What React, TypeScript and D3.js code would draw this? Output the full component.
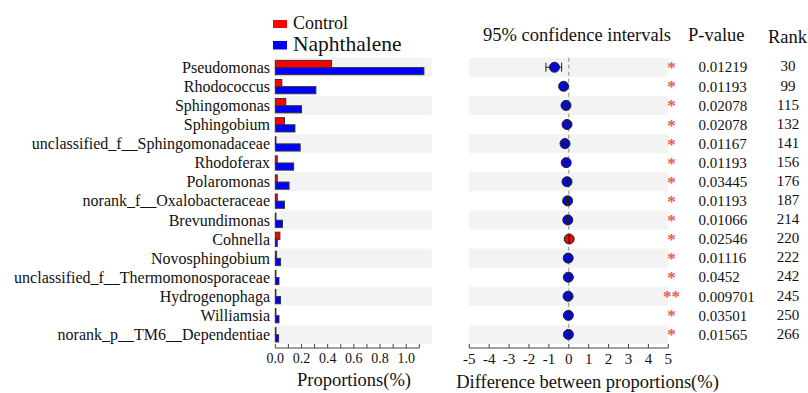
import React from "react";
import * as d3 from "d3";

// Genera compared between the two treatments (top to bottom)
const taxa = [
  "Pseudomonas",
  "Rhodococcus",
  "Sphingomonas",
  "Sphingobium",
  "unclassified_f__Sphingomonadaceae",
  "Rhodoferax",
  "Polaromonas",
  "norank_f__Oxalobacteraceae",
  "Brevundimonas",
  "Cohnella",
  "Novosphingobium",
  "unclassified_f__Thermomonosporaceae",
  "Hydrogenophaga",
  "Williamsia",
  "norank_p__TM6__Dependentiae",
];

// Mean proportions (%) per group
const control = [0.43, 0.05, 0.08, 0.07, 0.005, 0.015, 0.015, 0.015, 0.005, 0.035, 0.01, 0.005, 0.003, 0.005, 0.005];
const naphthalene = [1.135, 0.31, 0.2, 0.15, 0.19, 0.14, 0.105, 0.07, 0.055, 0.015, 0.04, 0.028, 0.04, 0.028, 0.025];

// Difference between proportions and its 95% confidence interval
const diff = [-0.72, -0.26, -0.14, -0.09, -0.19, -0.13, -0.09, -0.06, -0.05, 0.02, -0.03, -0.023, -0.037, -0.023, -0.02];
const ciLow = [-1.15, -0.38, -0.24, -0.16, -0.28, -0.2, -0.16, -0.11, -0.09, 0.005, -0.06, -0.045, -0.06, -0.045, -0.04];
const ciHigh = [-0.36, -0.14, -0.04, -0.02, -0.1, -0.06, -0.02, -0.01, -0.01, 0.04, -0.005, -0.002, -0.015, -0.002, -0.002];

const pValues = ["0.01219", "0.01193", "0.02078", "0.02078", "0.01167", "0.01193", "0.03445", "0.01193", "0.01066", "0.02546", "0.01116", "0.0452", "0.009701", "0.03501", "0.01565"];
const stars = ["*", "*", "*", "*", "*", "*", "*", "*", "*", "*", "*", "*", "**", "*", "*"];
const ranks = ["30", "99", "115", "132", "141", "156", "176", "187", "214", "220", "222", "242", "245", "250", "266"];

const propTicks = [0, 0.1, 0.2, 0.3, 0.4, 0.5, 0.6, 0.7, 0.8, 0.9, 1.0, 1.1];
const propLabels = [0, 0.2, 0.4, 0.6, 0.8, 1.0];
const diffTicks = [-5, -4, -3, -2, -1, 0, 1, 2, 3, 4, 5];

const RED = "#ff0000";
const BLUE = "#0000ff";
const BAND = "#f3f3f3";
const FONT = "'Liberation Serif', 'Times New Roman', serif";

export default function App() {
  const y = d3.scaleBand<string>().domain(taxa).range([57.7, 344]).paddingInner(0).paddingOuter(0);
  const xProp = d3.scaleLinear().domain([0, 1.1]).range([275.3, 419.3]);
  const xDiff = d3.scaleLinear().domain([-5, 5]).range([469.3, 668.3]);
  const bw = y.bandwidth();
  const barH = (bw - 4.8) / 2;
  const axisY = 348;

  return (
    <svg
      width={808}
      height={393}
      style={{ position: "absolute", left: 0, top: 0, background: "#fff" }}
      fontFamily={FONT}
    >
      {/* legend */}
      <rect x={273} y={20} width={14} height={8} fill={RED} />
      <text x={293} y={28.5} fontSize={18} fill="#111">Control</text>
      <rect x={273} y={41} width={14} height={8.5} fill={BLUE} />
      <text x={293} y={50.5} fontSize={21.5} fill="#111">Naphthalene</text>

      {/* headers */}
      <text x={483} y={41} fontSize={18.5} fill="#111">95% confidence intervals</text>
      <text x={688} y={41} fontSize={18.5} fill="#111">P-value</text>
      <text x={768} y={43} fontSize={18.5} fill="#111">Rank</text>

      {taxa.map((t, i) => {
        const top = y(t)!;
        const cy = top + bw / 2;
        return (
          <g key={t}>
            {i % 2 === 0 && (
              <>
                <rect x={275} y={top} width={431.7 - 275} height={bw} fill={BAND} />
                <rect x={469} y={top} width={668.3 - 469} height={bw} fill={BAND} />
              </>
            )}
            <text x={270} y={cy} dy="0.35em" textAnchor="end" fontSize={16} fill="#111">{t}</text>
            {/* bars */}
            <rect
              x={xProp(0)}
              y={top + 2.7}
              width={Math.max(xProp(control[i]) - xProp(0), 0.6)}
              height={barH}
              fill={RED}
              stroke="#333"
              strokeWidth={1}
            />
            <rect
              x={xProp(0)}
              y={top + 2.7 + barH}
              width={Math.max(xProp(naphthalene[i]) - xProp(0), 0.6)}
              height={barH}
              fill={BLUE}
              stroke="#333"
              strokeWidth={1}
            />
            {/* stars, p-value, rank */}
            <text x={671.5} y={cy + 6} textAnchor="middle" fontSize={17} fontWeight="bold" fill="#f05555">{stars[i]}</text>
            <text x={698.5} y={cy} dy="0.35em" fontSize={15} fill="#111">{pValues[i]}</text>
            <text x={788} y={cy - 1} dy="0.35em" textAnchor="middle" fontSize={15} fill="#111">{ranks[i]}</text>
          </g>
        );
      })}

      {/* zero reference line */}
      <line x1={xDiff(0)} x2={xDiff(0)} y1={57.7} y2={344} stroke="#8a8a8a" strokeDasharray="4,3" strokeWidth={1} />

      {/* difference points and confidence intervals */}
      {taxa.map((t, i) => {
        const cy = y(t)! + bw / 2;
        const x0 = xDiff(ciLow[i]);
        const x1 = xDiff(ciHigh[i]);
        return (
          <g key={"ci" + t}>
            <circle cx={xDiff(diff[i])} cy={cy} r={5} fill={diff[i] > 0 ? RED : BLUE} stroke="#222" strokeWidth={1} />
            <line x1={x0} x2={x1} y1={cy} y2={cy} stroke="#222" strokeWidth={1} />
            <line x1={x0} x2={x0} y1={cy - 4.5} y2={cy + 4.5} stroke="#222" strokeWidth={1} />
            <line x1={x1} x2={x1} y1={cy - 4.5} y2={cy + 4.5} stroke="#222" strokeWidth={1} />
          </g>
        );
      })}

      {/* proportion axis */}
      <line x1={xProp(0)} x2={xProp(1.1)} y1={axisY} y2={axisY} stroke="#444" />
      {propTicks.map((v) => (
        <line key={"pt" + v} x1={xProp(v)} x2={xProp(v)} y1={axisY - 4} y2={axisY} stroke="#444" />
      ))}
      {propLabels.map((v) => (
        <text key={"pl" + v} x={xProp(v)} y={362.5} textAnchor="middle" fontSize={14} fill="#111">
          {d3.format(".1f")(v)}
        </text>
      ))}
      <text x={354} y={386} textAnchor="middle" fontSize={18.5} fill="#111">Proportions(%)</text>

      {/* difference axis */}
      <line x1={xDiff(-5)} x2={xDiff(5)} y1={axisY} y2={axisY} stroke="#444" />
      {diffTicks.map((v) => (
        <g key={"dt" + v}>
          <line x1={xDiff(v)} x2={xDiff(v)} y1={axisY - 4} y2={axisY} stroke="#444" />
          <text x={xDiff(v)} y={364} textAnchor="middle" fontSize={15} fill="#111">{v}</text>
        </g>
      ))}
      <text x={587.5} y={388} textAnchor="middle" fontSize={18.5} fill="#111">Difference between proportions(%)</text>
    </svg>
  );
}
